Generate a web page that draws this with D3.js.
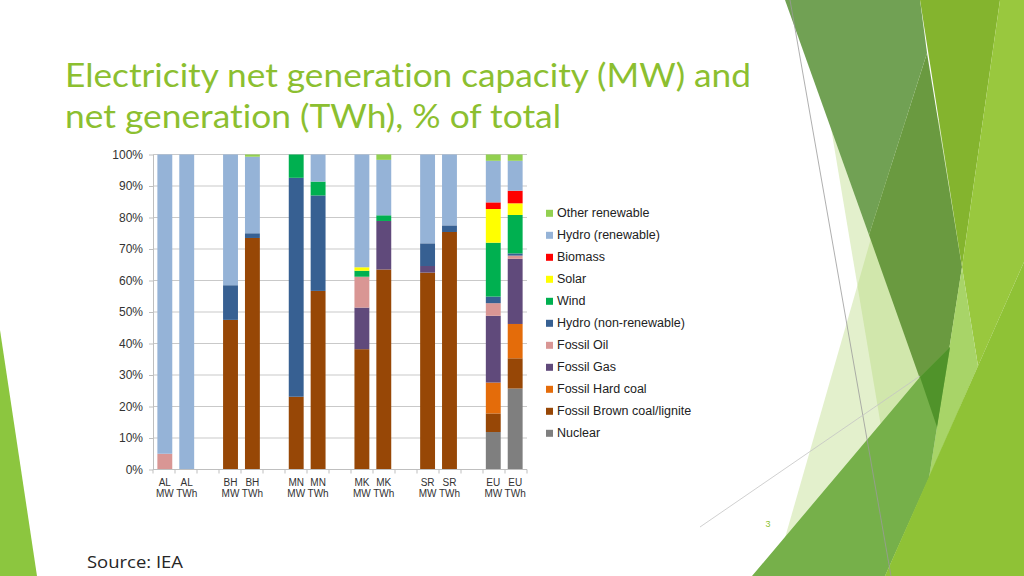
<!DOCTYPE html>
<html>
<head>
<meta charset="utf-8">
<script src="https://cdn.jsdelivr.net/npm/d3@7"></script>
<style>
    html, body { margin: 0; padding: 0; background: #ffffff; overflow: hidden; }
    #slide text { font-family: "Liberation Sans", Arial, sans-serif; font-variant-ligatures: none; }
</style>
</head>
<body>
<div id="slide"></div>
<script>
/*
    Electricity net generation capacity (MW) and net generation (TWh), % of total
 */

// bars: each country has a capacity (MW) and a generation (TWh) bar
var countries = ["AL", "BH", "MN", "MK", "SR", "EU"];
var measures = ["MW", "TWh"];

// series, bottom to top, one value per bar (AL MW, AL TWh, BH MW, ... EU TWh)
var nuclear      = [0,   0,   0,    0,    0,    0,    0,    0,    0,    0,    11.9, 25.7];
var brown_coal   = [0,   0,   47.5, 73.5, 23.1, 56.7, 38.2, 63.5, 62.5, 75.4, 5.9,  9.6];
var hard_coal    = [0,   0,   0,    0,    0,    0,    0,    0,    0,    0,    9.8,  10.9];
var fossil_gas   = [0,   0,   0,    0,    0,    0,    13.2, 15.4, 2.1,  0,    21.2, 20.7];
var fossil_oil   = [5,   0,   0,    0,    0,    0,    9.8,  0,    0,    0,    4.0,  1.0];
var hydro_nonren = [0,   0,   11,   1.5,  69.5, 30.3, 0,    0,    7.2,  2.1,  2.1,  0.7];
var wind         = [0,   0,   0,    0,    7.4,  4.4,  1.9,  1.8,  0,    0,    17.1, 12.2];
var solar        = [0,   0,   0,    0,    0,    0,    1.1,  0,    0,    0,    10.7, 3.7];
var biomass      = [0,   0,   0,    0,    0,    0,    0,    0,    0,    0,    2.1,  4.0];
var hydro_ren    = [95,  100, 41.5, 24.3, 0,    8.6,  35.8, 17.6, 28.2, 22.5, 13.2, 9.5];
var other_ren    = [0,   0,   0,    0.7,  0,    0,    0,    1.7,  0,    0,    2.0,  2.0];

var series_names = ["Nuclear", "Fossil Brown coal/lignite", "Fossil Hard coal", "Fossil Gas",
    "Fossil Oil", "Hydro (non-renewable)", "Wind", "Solar", "Biomass", "Hydro (renewable)", "Other renewable"];
var series_values = [nuclear, brown_coal, hard_coal, fossil_gas, fossil_oil, hydro_nonren,
    wind, solar, biomass, hydro_ren, other_ren];
var series_colors = ["#7f7f7f", "#974706", "#e46c0a", "#604a7b", "#d99694", "#376092",
    "#00b050", "#ffff00", "#ff0000", "#95b3d7", "#92d050"];

var y_ticks = [0, 10, 20, 30, 40, 50, 60, 70, 80, 90, 100];

var chart_option = {
    'left': 153,
    'right': 527,
    'top': 154.5,
    'bottom': 469.5
};

// build rows for d3.stack, plus the slot list with gaps between countries
var rows = [];
var slots = [];
countries.forEach(function(c, ci){
    measures.forEach(function(m, mi){
        var row = {'slot': c + ' ' + m, 'country': c, 'measure': m};
        series_names.forEach(function(s, si){
            row[s] = series_values[si][ci*2 + mi];
        });
        rows.push(row);
        slots.push(row.slot);
    });
    if (ci < countries.length - 1) slots.push('gap' + ci);
});

var color_scale = d3.scaleOrdinal().domain(series_names).range(series_colors);

var svg = d3.select("#slide")
    .append("svg")
    .attr('width', 1024)
    .attr('height', 576);

// slide decoration (theme shapes)
var deco = svg.append('g');
function poly(points, fill, opacity){
    deco.append('polygon')
        .attr('points', points.map(function(p){ return p.join(','); }).join(' '))
        .style('fill', fill)
        .style('fill-opacity', opacity);
}
poly([[0,330],[37,576],[0,576]], '#8cc63f', 1);
// pale shapes
poly([[905,120],[770,590],[960,590],[960,120]], '#b5d878', 0.38);
poly([[828,110],[890,480],[945,420],[880,110]], '#b5d878', 0.38);
// dark top triangle, two tones
poly([[785,0],[920,0],[927,53],[869,235]], '#71a154', 1);
poly([[927,53],[962,267],[937,427],[869,235]], '#6a9a40', 1);
// mid and lime on the right
poly([[920,0],[1000,0],[962,267]], '#84b42e', 1);
poly([[1000,0],[1024,0],[1024,262],[978,366],[962,267]], '#99c83e', 1);
poly([[962,267],[978,366],[929,478],[937,427]], '#a8d468', 1);
// bottom green and its overlap with the dark tip
poly([[752,576],[920,377],[950,347],[937,427],[929,478],[885,576]], '#76b04a', 1);
poly([[920,377],[950,347],[937,427]], '#50932a', 1);
poly([[1024,262],[1024,576],[885,576]], '#8fc236', 1);

deco.append('line')
    .attr('x1', 790).attr('y1', 0).attr('x2', 891).attr('y2', 576)
    .style('stroke', '#9a9a9a').style('stroke-width', 0.8);
deco.append('line')
    .attr('x1', 700).attr('y1', 527).attr('x2', 920).attr('y2', 376)
    .style('stroke', '#c4c4c4').style('stroke-width', 0.8);

deco.append('text')
    .attr('x', 768).attr('y', 527)
    .attr('text-anchor', 'middle')
    .style('font-size', '9px')
    .style('fill', '#8cbf30')
    .text('3');

// title
var title_lines = ["Electricity net generation capacity (MW) and", "net generation (TWh), % of total"];
var title_widths = [686, 496];
svg.selectAll('.title-line')
    .data(title_lines)
    .enter()
    .append('text')
    .classed('title-line', true)
    .attr('x', 65)
    .attr('y', function(d, i){ return 87 + i*41; })
    .attr('textLength', function(d, i){ return title_widths[i]; })
    .attr('lengthAdjust', 'spacingAndGlyphs')
    .style('font-family', 'Lato, "Open Sans", sans-serif')
    .style('font-size', '32px')
    .style('fill', '#8cbf30')
    .text(function(d){ return d; });

svg.append('text')
    .attr('x', 87)
    .attr('y', 568)
    .attr('textLength', 96)
    .attr('lengthAdjust', 'spacingAndGlyphs')
    .style('font-family', '"Open Sans", sans-serif')
    .style('font-size', '17px')
    .style('fill', '#262626')
    .text('Source: IEA');

// scales
var x_scale = d3.scaleBand()
    .domain(slots)
    .range([chart_option.left, chart_option.right])
    .paddingInner(0.32)
    .paddingOuter(0.2);

var y_scale = d3.scaleLinear()
    .domain([0, 100])
    .range([chart_option.bottom, chart_option.top]);

var chart = svg.append('g');

// grid lines
chart.selectAll('.grid-line')
    .data(y_ticks.slice(1))
    .enter()
    .append('line')
    .classed('grid-line', true)
    .attr('x1', chart_option.left)
    .attr('x2', chart_option.right)
    .attr('y1', function(d){ return y_scale(d); })
    .attr('y2', function(d){ return y_scale(d); })
    .style('stroke', '#c9c9c9')
    .style('stroke-width', 1);

// y axis
var y_axis = d3.axisLeft(y_scale)
    .tickValues(y_ticks)
    .tickFormat(function(d){ return d + '%'; })
    .tickSizeInner(4)
    .tickSizeOuter(0)
    .tickPadding(6);

var y_axis_group = chart.append('g')
    .attr('transform', 'translate(' + chart_option.left + ',0)')
    .call(y_axis);
y_axis_group.select('.domain').style('stroke', '#bfbfbf');
y_axis_group.selectAll('.tick line').style('stroke', '#bfbfbf');
y_axis_group.selectAll('.tick text')
    .style('font-family', '"Liberation Sans", Arial, sans-serif')
    .style('font-size', '12px')
    .style('fill', '#333333');

// stacked bars
var stack = d3.stack().keys(series_names);
var layers = stack(rows);

var layer_enter = chart.selectAll('.layer')
    .data(layers)
    .enter()
    .append('g')
    .classed('layer', true)
    .style('fill', function(d){ return color_scale(d.key); });

layer_enter.selectAll('rect')
    .data(function(d){ return d.filter(function(p){ return p[1] - p[0] > 0; }); })
    .enter()
    .append('rect')
    .attr('x', function(d){ return x_scale(d.data.slot); })
    .attr('y', function(d){ return y_scale(d[1]); })
    .attr('width', x_scale.bandwidth())
    .attr('height', function(d){ return y_scale(d[0]) - y_scale(d[1]); });

// x axis line and slot boundary ticks
chart.append('line')
    .attr('x1', chart_option.left)
    .attr('x2', chart_option.right)
    .attr('y1', chart_option.bottom)
    .attr('y2', chart_option.bottom)
    .style('stroke', '#bfbfbf');

chart.selectAll('.x-tick')
    .data(d3.range(slots.length + 1))
    .enter()
    .append('line')
    .classed('x-tick', true)
    .attr('x1', function(d){ return chart_option.left + d*(chart_option.right - chart_option.left)/slots.length; })
    .attr('x2', function(d){ return chart_option.left + d*(chart_option.right - chart_option.left)/slots.length; })
    .attr('y1', chart_option.bottom)
    .attr('y2', chart_option.bottom + 4)
    .style('stroke', '#bfbfbf');

var x_labels = chart.selectAll('.x-label')
    .data(rows)
    .enter()
    .append('text')
    .classed('x-label', true)
    .attr('text-anchor', 'middle')
    .style('font-size', '10px')
    .style('fill', '#333333');

x_labels.append('tspan')
    .attr('x', function(d){ return x_scale(d.slot) + x_scale.bandwidth()/2; })
    .attr('y', chart_option.bottom + 16)
    .text(function(d){ return d.country; });

x_labels.append('tspan')
    .attr('x', function(d){ return x_scale(d.slot) + x_scale.bandwidth()/2; })
    .attr('y', chart_option.bottom + 27)
    .text(function(d){ return d.measure; });

// legend, top entry first
var legend_items = series_names.slice().reverse();
var legend = chart.selectAll('.legend-item')
    .data(legend_items)
    .enter()
    .append('g')
    .classed('legend-item', true)
    .attr('transform', function(d, i){
        return 'translate(546,' + (213.3 + i*22) + ')';
    });

legend.append('rect')
    .attr('x', 0)
    .attr('y', -3.5)
    .attr('width', 7)
    .attr('height', 7)
    .style('fill', function(d){ return color_scale(d); });

legend.append('text')
    .attr('x', 11)
    .attr('y', 0)
    .attr('dominant-baseline', 'central')
    .style('font-size', '12.5px')
    .style('fill', '#222222')
    .text(function(d){ return d; });
</script>
</body>
</html>
